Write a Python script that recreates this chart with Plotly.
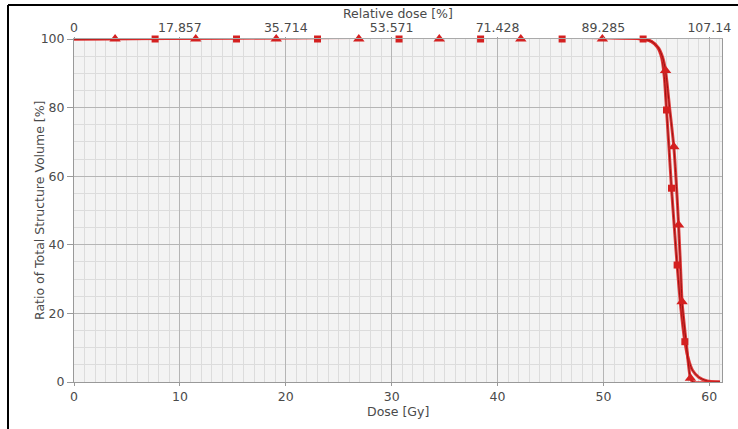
import plotly.graph_objects as go

# ---- data ----
sq_dose = [0, 53.75, 54.5, 55.1, 55.5, 55.75, 55.96, 56.2, 56.43, 56.7, 56.96, 57.3, 57.69, 58.0, 58.4, 59.0, 59.8, 61.0]
sq_vol = [100, 100, 99.3, 97.6, 94.5, 89, 79.3, 68, 56.5, 45, 34.1, 22, 11.75, 7, 3.5, 1.4, 0.3, 0]
tri_dose = [0, 53.75, 54.6, 55.2, 55.6, 55.87, 56.25, 56.65, 56.9, 57.1, 57.27, 57.43, 57.8, 58.22, 58.45, 61.0]
tri_vol = [100, 100, 99.2, 97.4, 94.6, 90.8, 80, 68.6, 57, 45.8, 34.5, 23.4, 12, 1.1, 0, 0]

sq_mark_dose = [7.66, 15.35, 23.0, 30.7, 38.4, 46.1, 53.75, 55.96, 56.43, 56.96, 57.69]
sq_mark_vol = [100, 100, 100, 100, 100, 100, 100, 79.3, 56.5, 34.1, 11.75]
tri_mark_dose = [3.88, 11.5, 19.1, 26.9, 34.5, 42.2, 49.9, 55.87, 56.65, 57.1, 57.43, 58.22]
tri_mark_vol = [100, 100, 100, 100, 100, 100, 100, 90.8, 68.6, 45.8, 23.4, 1.1]

bottom_ticks = [0, 10, 20, 30, 40, 50, 60]
top_tick_text = ["0", "17.857", "35.714", "53.571", "71.428", "89.285", "107.14"]
y_ticks = [0, 20, 40, 60, 80, 100]

FONT = "DejaVu Sans"
FS = 12.5
RED = "#d42020"
DARK = "#9a1212"

fig = go.Figure()
for xs, ys in [(sq_dose, sq_vol), (tri_dose, tri_vol)]:
    fig.add_trace(go.Scatter(x=xs, y=ys, mode="lines", cliponaxis=False,
                             line=dict(color="rgba(222,40,40,0.9)", width=3, shape="spline", smoothing=0.6),
                             hoverinfo="skip", showlegend=False))
    fig.add_trace(go.Scatter(x=xs, y=ys, mode="lines", cliponaxis=False,
                             line=dict(color=DARK, width=1, shape="spline", smoothing=0.6),
                             hoverinfo="skip", showlegend=False))
fig.add_trace(go.Scatter(x=sq_mark_dose, y=sq_mark_vol, mode="markers", cliponaxis=False,
                         marker=dict(symbol="square", size=7, color=RED), showlegend=False))
fig.add_trace(go.Scatter(x=tri_mark_dose, y=tri_mark_vol, mode="markers", cliponaxis=False,
                         marker=dict(symbol="triangle-up", size=10, color=RED), showlegend=False))
# invisible trace to activate top axis
fig.add_trace(go.Scatter(x=[0, 61.2], y=[None, None], xaxis="x2", mode="lines", showlegend=False, hoverinfo="skip"))

XR = [0, 61.2]
tickfont = dict(family=FONT, size=FS, color="#4a4a4a")
fig.update_layout(
    width=738, height=429,
    margin=dict(l=74, r=16, t=39, b=47, autoexpand=False),
    paper_bgcolor="white", plot_bgcolor="#f3f3f3",
    xaxis=dict(range=XR, tickvals=bottom_ticks, ticks="outside", ticklen=3, tickcolor="#999",
               showline=True, linecolor="#999", linewidth=1, showgrid=True, gridcolor="#b5b5b5", gridwidth=1,
               zeroline=False, tickfont=tickfont, automargin=False,
               minor=dict(dtick=1, showgrid=True, gridcolor="#dcdcdc", gridwidth=1, ticks="")),
    xaxis2=dict(range=XR, overlaying="x", side="top", tickvals=bottom_ticks, ticktext=top_tick_text,
                ticks="outside", ticklen=1, tickcolor="#999", showline=True, linecolor="#aaa",
                showgrid=False, zeroline=False, tickfont=tickfont, automargin=False),
    yaxis=dict(range=[0, 100], tickvals=y_ticks, ticks="outside", ticklen=6, tickcolor="#999",
               showline=True, linecolor="#999", mirror=True, showgrid=True, gridcolor="#b5b5b5",
               zeroline=False, tickfont=tickfont, automargin=False,
               minor=dict(dtick=5, showgrid=True, gridcolor="#dcdcdc", gridwidth=1, ticks="")),
    annotations=[
        dict(text="Dose [Gy]", xref="paper", yref="paper", x=0.5, y=-29 / 343, yanchor="middle", showarrow=False,
             font=dict(family=FONT, size=FS, color="#4a4a4a")),
        dict(text="Relative dose [%]", xref="paper", yref="paper", x=0.5, y=1.0 + 25 / 343, yanchor="middle",
             showarrow=False, font=dict(family=FONT, size=FS, color="#4a4a4a")),
        dict(text="Ratio of Total Structure Volume [%]", xref="paper", yref="paper", x=-44 / 648, y=0.5,
             textangle=-90, showarrow=False, font=dict(family=FONT, size=FS, color="#4a4a4a")),
    ],
    shapes=[
        dict(type="line", xref="paper", yref="paper", x0=-66 / 648, x1=-66 / 648, y0=(382 - 5) / 343, y1=-50 / 343,
             line=dict(color="black", width=2), layer="above"),
        dict(type="line", xref="paper", yref="paper", x0=-66 / 648, x1=(740 - 74) / 648, y0=(382 - 5) / 343,
             y1=(382 - 5) / 343, line=dict(color="black", width=2), layer="above"),
    ],
)
fig.write_html("out.html", config={"displayModeBar": False},
               post_script="document.body.style.margin='0';document.body.style.padding='0';")
